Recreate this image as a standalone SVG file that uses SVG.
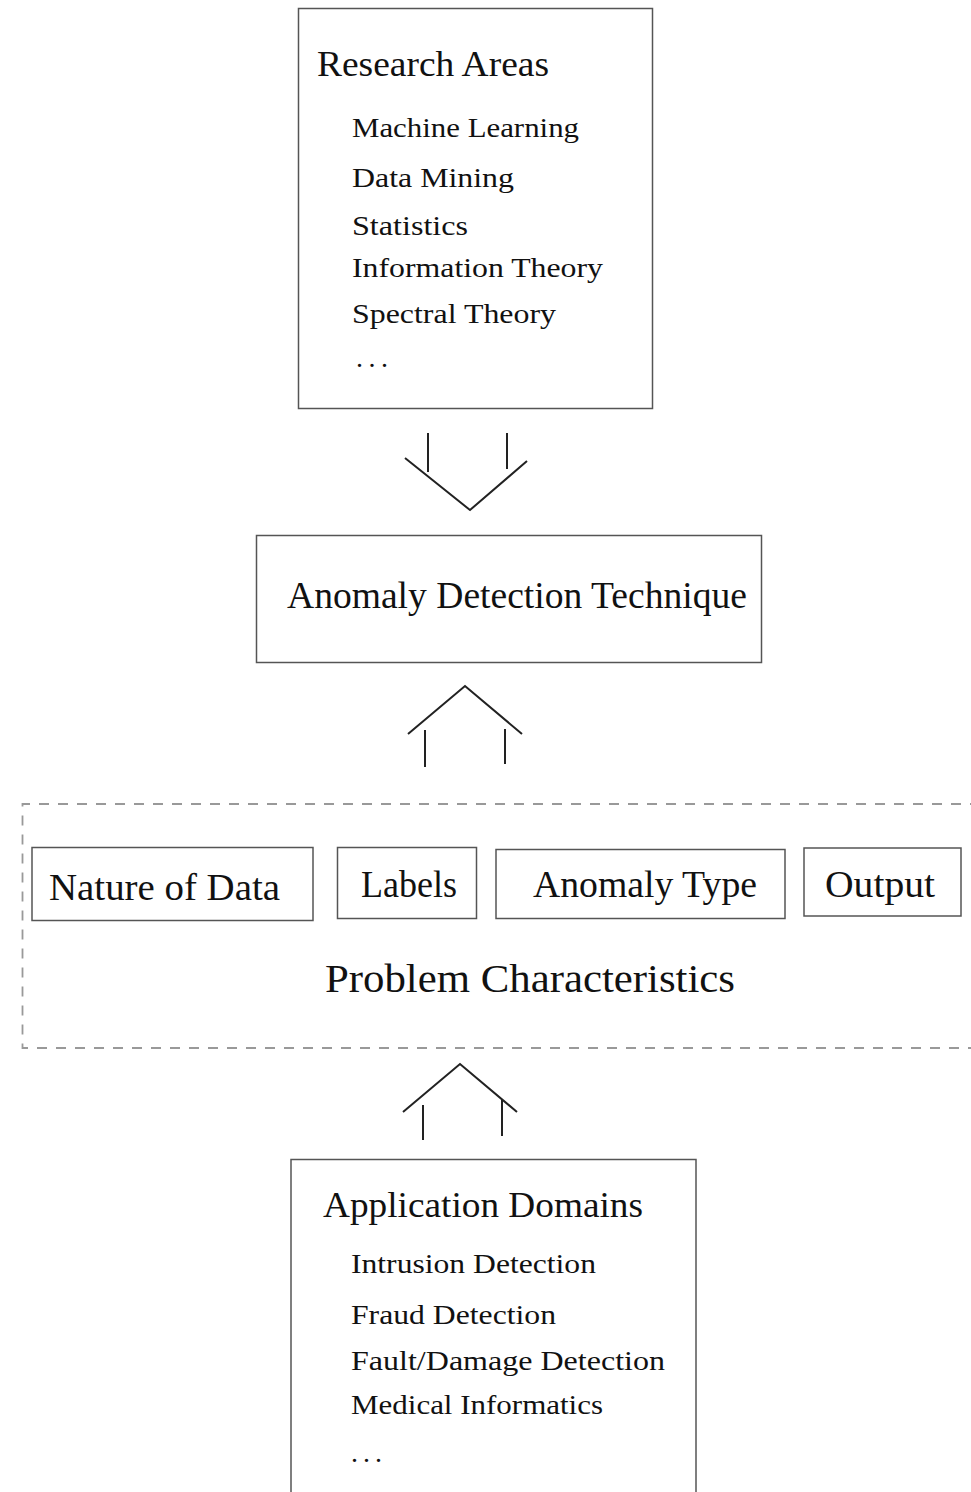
<svg xmlns="http://www.w3.org/2000/svg" width="971" height="1492" viewBox="0 0 971 1492">
  <style>
    .box { fill: #fff; stroke: #555; stroke-width: 1.5; }
    .dash { fill: none; stroke: #999; stroke-width: 1.8; stroke-dasharray: 10 9; }
    .arrow { fill: none; stroke: #222; stroke-width: 2; stroke-linecap: butt; stroke-linejoin: miter; }
    text { font-family: "Liberation Serif", "DejaVu Serif", serif; fill: #111; }
    .title { font-size: 35px; }
    .item { font-size: 28px; }
    .big { font-size: 37px; }
    .huge { font-size: 40px; }
  </style>
  <rect width="971" height="1492" fill="#fff"/>

  <!-- research areas -->
  <g id="research-areas">
    <rect class="box" x="298.5" y="8.5" width="354" height="400"/>
    <text class="title" x="317" y="76" textLength="232" lengthAdjust="spacingAndGlyphs">Research Areas</text>
    <text class="item" x="352" y="137" textLength="227" lengthAdjust="spacingAndGlyphs">Machine Learning</text>
    <text class="item" x="352" y="187" textLength="162" lengthAdjust="spacingAndGlyphs">Data Mining</text>
    <text class="item" x="352" y="235" textLength="116" lengthAdjust="spacingAndGlyphs">Statistics</text>
    <text class="item" x="352" y="277" textLength="251" lengthAdjust="spacingAndGlyphs">Information Theory</text>
    <text class="item" x="352" y="323" textLength="204" lengthAdjust="spacingAndGlyphs">Spectral Theory</text>
    <text class="item" x="356" y="367" textLength="32" lengthAdjust="spacing">. . .</text>
  </g>

  <!-- technique -->
  <g id="technique">
    <rect class="box" x="256.5" y="535.5" width="505" height="127"/>
    <text class="big" x="287" y="608" textLength="460" lengthAdjust="spacingAndGlyphs">Anomaly Detection Technique</text>
  </g>

  <!-- problem characteristics -->
  <g id="problem-characteristics">
    <path class="dash" d="M 980 804 L 22.5 804 L 22.5 1048 L 980 1048"/>
    <text class="huge" x="325" y="992" textLength="410" lengthAdjust="spacingAndGlyphs">Problem Characteristics</text>
  </g>
  <g id="nature-of-data">
    <rect class="box" x="32" y="847.5" width="281" height="73"/>
    <text class="big" x="49" y="900" textLength="231" lengthAdjust="spacingAndGlyphs">Nature of Data</text>
  </g>
  <g id="labels">
    <rect class="box" x="337.5" y="847.5" width="139" height="71"/>
    <text class="big" x="361" y="897" textLength="96" lengthAdjust="spacingAndGlyphs">Labels</text>
  </g>
  <g id="anomaly-type">
    <rect class="box" x="496" y="849.5" width="289" height="69"/>
    <text class="big" x="533" y="897" textLength="224" lengthAdjust="spacingAndGlyphs">Anomaly Type</text>
  </g>
  <g id="output">
    <rect class="box" x="804" y="848" width="157" height="68"/>
    <text class="big" x="825" y="897" textLength="110" lengthAdjust="spacingAndGlyphs">Output</text>
  </g>

  <!-- application domains -->
  <g id="application-domains">
    <path class="box" d="M 291 1500 L 291 1159.5 L 696 1159.5 L 696 1500"/>
    <text class="title" x="323" y="1217" textLength="320" lengthAdjust="spacingAndGlyphs">Application Domains</text>
    <text class="item" x="351" y="1273" textLength="245" lengthAdjust="spacingAndGlyphs">Intrusion Detection</text>
    <text class="item" x="351" y="1324" textLength="205" lengthAdjust="spacingAndGlyphs">Fraud Detection</text>
    <text class="item" x="351" y="1370" textLength="314" lengthAdjust="spacingAndGlyphs">Fault/Damage Detection</text>
    <text class="item" x="351" y="1414" textLength="252" lengthAdjust="spacingAndGlyphs">Medical Informatics</text>
    <text class="item" x="351" y="1462" textLength="31" lengthAdjust="spacing">. . .</text>
  </g>

  <!-- double-shafted arrows -->
  <g id="connectors">
    <g id="research-to-technique">
      <path class="arrow" d="M 428 433 L 428 472 M 507 433 L 507 469"/>
      <path class="arrow" d="M 405 458 L 470 510 L 527 461"/>
    </g>
    <g id="problem-to-technique">
      <path class="arrow" d="M 425 730 L 425 767 M 505 729 L 505 764"/>
      <path class="arrow" d="M 408 734 L 465 686 L 522 734"/>
    </g>
    <g id="domains-to-problem">
      <path class="arrow" d="M 423 1105 L 423 1140 M 502 1100 L 502 1136"/>
      <path class="arrow" d="M 403 1112 L 460 1064 L 517 1112"/>
    </g>
  </g>
</svg>
